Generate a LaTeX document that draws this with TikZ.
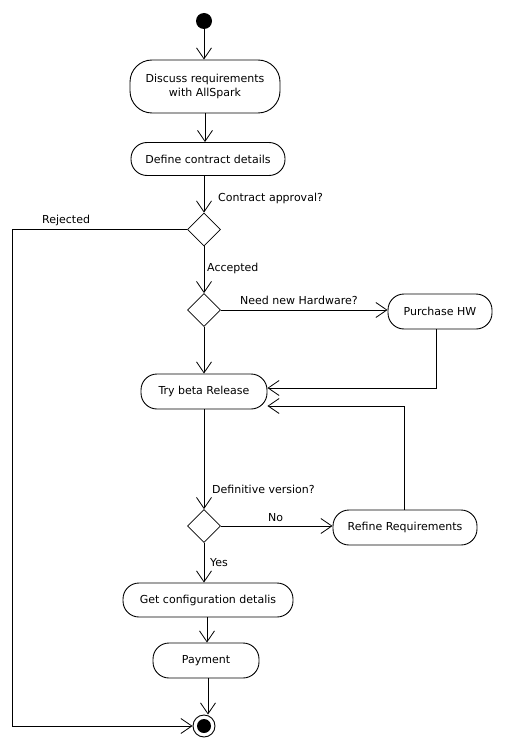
\documentclass[tikz,border=0pt]{standalone}
\usepackage{fontspec}
\setmainfont{DejaVu Sans}
\usetikzlibrary{arrows.meta,shapes.geometric}
\begin{document}
\begin{tikzpicture}[x=1pt,y=1pt,
  font=\fontsize{11}{13.5}\selectfont,
  act/.style={draw,line width=0.9pt,rounded corners=16pt,minimum height=35pt,align=center,inner sep=2pt},
  dec/.style={draw,line width=0.8pt,diamond,minimum width=33pt,minimum height=33pt,inner sep=0pt},
  arr/.style={line width=0.8pt,-{Straight Barb[length=11pt,width=15pt,line width=0.8pt]}},
  lbl/.style={inner sep=1pt}]
\useasboundingbox (0,0) rectangle (504,-746);
\node[circle,fill=black,minimum size=16pt,inner sep=0pt] (start) at (204,-21) {};
\node[act,minimum width=150pt,minimum height=53pt,rounded corners=22pt] (discuss) at (205,-86.5) {Discuss requirements\\with AllSpark};
\node[act,minimum width=154pt,minimum height=33pt] (define) at (208,-159) {Define contract details};
\node[dec] (d1) at (204,-229.5) {};
\node[dec] (d2) at (204,-310) {};
\node[act,minimum width=104pt] (purchase) at (440,-311.5) {Purchase HW};
\node[act,minimum width=126pt] (try) at (204,-391.5) {Try beta Release};
\node[dec] (d3) at (204,-526) {};
\node[act,minimum width=144pt] (refine) at (405,-527.5) {Refine Requirements};
\node[act,minimum width=170pt,minimum height=34pt] (getconf) at (208,-600) {Get configuration detalis};
\node[act,minimum width=106pt] (payment) at (206,-660.5) {Payment};
\node[circle,draw,line width=0.9pt,minimum size=22pt,inner sep=0pt] (end) at (204,-726) {};
\node[circle,fill=black,minimum size=14pt,inner sep=0pt] (endin) at (end) {};
\coordinate (rj) at (12,-229.5);
\draw[arr] (start) -- (discuss.north -| start);
\draw[arr] (discuss.south) -- (discuss.south |- define.north);
\draw[arr] (define.south -| d1) -- (d1.north);
\draw[line width=0.8pt] (d1.west) -- (rj);
\draw[arr] (rj) |- (end.west);
\draw[arr] (d1.south) -- (d2.north);
\draw[arr] (d2.east) -- (purchase.west |- d2.east);
\draw[arr] (d2.south) -- (try.north -| d2.south);
\draw[arr] ([xshift=-4pt]purchase.south) |- ([yshift=3.5pt]try.east);
\draw[arr] (try.south -| d3) -- (d3.north);
\draw[arr] (d3.east) -- (refine.west |- d3.east);
\draw[arr] (refine.north -| 404,0) |- ([yshift=-14.5pt]try.east);
\draw[arr] (d3.south) -- (getconf.north -| d3.south);
\draw[arr] ([xshift=-1pt]getconf.south) -- ([xshift=-1pt]getconf.south |- payment.north);
\draw[arr] ([xshift=2pt]payment.south) -- ([xshift=2pt]payment.south |- end.north);
\node[lbl,anchor=west] (l1) at (217,-198) {Contract approval?};
\node[lbl,anchor=west] (l2) at (41,-220) {Rejected};
\node[lbl,anchor=west] (l3) at (206,-268) {Accepted};
\node[lbl,anchor=west] (l4) at (239,-300) {Need new Hardware?};
\node[lbl,anchor=west] (l5) at (211,-489) {Definitive version?};
\node[lbl,anchor=west] (l6) at (267,-518) {No};
\node[lbl,anchor=west] (l7) at (209,-563) {Yes};
\end{tikzpicture}
\end{document}
